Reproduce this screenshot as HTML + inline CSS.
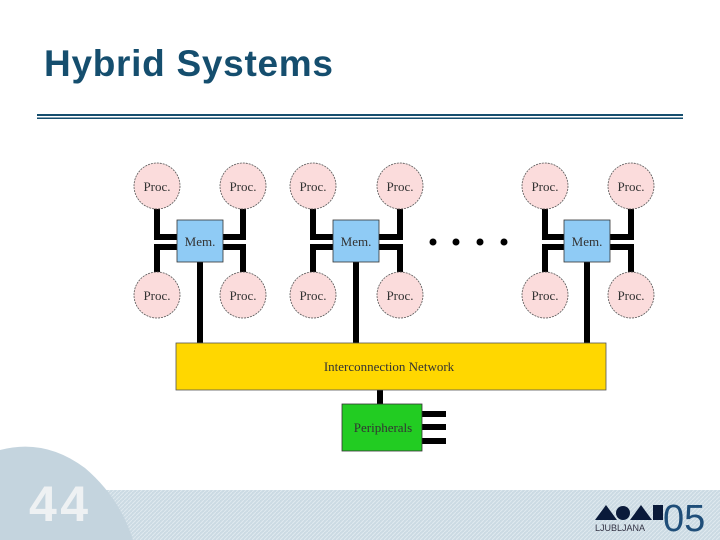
<!DOCTYPE html>
<html><head><meta charset="utf-8"><style>
html,body{margin:0;padding:0;background:#fff;}
svg{display:block;}
</style></head><body>
<svg width="720" height="540" viewBox="0 0 720 540" xmlns="http://www.w3.org/2000/svg">
<defs>
<pattern id="h" width="4" height="4" patternUnits="userSpaceOnUse">
<rect width="4" height="4" fill="#cbdae3"/>
<path d="M0,4 L4,0" stroke="#e0e9ef" stroke-width="1"/>
</pattern>
</defs>
<rect x="100" y="490" width="620" height="50" fill="url(#h)"/>
<path d="M0,450 Q45,438 85,468 Q120,498 133,540 L0,540 Z" fill="#c4d4de"/>
<text x="29" y="521" font-family="Liberation Sans, sans-serif" font-weight="bold" font-size="50" textLength="59" fill="#eef1f3">44</text>
<!-- logo -->
<g fill="#0a1a3a">
<polygon points="595,520 606,505 617,520"/>
<circle cx="623" cy="513" r="7"/>
<polygon points="630,520 641,505 652,520"/>
<rect x="653" y="505" width="10" height="15"/>
</g>
<text x="595" y="531" font-family="Liberation Sans, sans-serif" font-size="9" fill="#334">LJUBLJANA</text>
<text x="663" y="531" font-family="Liberation Sans, sans-serif" font-size="38" fill="#1f4e79">05</text>
<!-- title -->
<text x="44" y="76" font-family="Liberation Sans, sans-serif" font-weight="bold" font-size="37" textLength="289" fill="#154e6e">Hybrid Systems</text>
<rect x="37" y="114" width="646" height="2" fill="#154e6e"/>
<rect x="37" y="117.5" width="646" height="1.5" fill="#154e6e"/>
<!-- connectors -->
<g stroke="#000" stroke-width="6" fill="none">
<path d="M157,208 V237 H178 M157,272 V247 H178 M243,208 V237 H222 M243,272 V247 H222 M200,262 V344"/>
<path d="M313,208 V237 H334 M313,272 V247 H334 M400,208 V237 H378 M400,272 V247 H378 M356,262 V344"/>
<path d="M545,208 V237 H566 M545,272 V247 H566 M631,208 V237 H610 M631,272 V247 H610 M587,262 V344"/>
<path d="M380,389 V405 M422,414 H446 M422,427 H446 M422,441 H446"/>
</g>
<g fill="#000"><circle cx="433" cy="242" r="3.5"/><circle cx="456" cy="242" r="3.5"/><circle cx="480" cy="242" r="3.5"/><circle cx="504" cy="242" r="3.5"/></g>
<g fill="#fbdcdc" stroke="#555" stroke-width="0.8" stroke-dasharray="2,1">
<circle cx="157" cy="186" r="23"/><circle cx="243" cy="186" r="23"/><circle cx="157" cy="295" r="23"/><circle cx="243" cy="295" r="23"/>
<circle cx="313" cy="186" r="23"/><circle cx="400" cy="186" r="23"/><circle cx="313" cy="295" r="23"/><circle cx="400" cy="295" r="23"/>
<circle cx="545" cy="186" r="23"/><circle cx="631" cy="186" r="23"/><circle cx="545" cy="295" r="23"/><circle cx="631" cy="295" r="23"/>
</g>
<g font-family="Liberation Serif, serif" font-size="13" fill="#333" text-anchor="middle">
<text x="157" y="191">Proc.</text><text x="243" y="191">Proc.</text><text x="157" y="300">Proc.</text><text x="243" y="300">Proc.</text>
<text x="313" y="191">Proc.</text><text x="400" y="191">Proc.</text><text x="313" y="300">Proc.</text><text x="400" y="300">Proc.</text>
<text x="545" y="191">Proc.</text><text x="631" y="191">Proc.</text><text x="545" y="300">Proc.</text><text x="631" y="300">Proc.</text>
</g>
<g fill="#8fcbf5" stroke="#333" stroke-width="0.8">
<rect x="177" y="220" width="46" height="42"/><rect x="333" y="220" width="46" height="42"/><rect x="564" y="220" width="46" height="42"/>
</g>
<g font-family="Liberation Serif, serif" font-size="13" fill="#333" text-anchor="middle">
<text x="200" y="246">Mem.</text><text x="356" y="246">Mem.</text><text x="587" y="246">Mem.</text>
</g>
<rect x="176" y="343" width="430" height="47" fill="#ffd700" stroke="#555" stroke-width="0.8"/>
<text x="389" y="371" font-family="Liberation Serif, serif" font-size="13" fill="#333" text-anchor="middle">Interconnection Network</text>
<rect x="342" y="404" width="80" height="47" fill="#22cc22" stroke="#333" stroke-width="0.8"/>
<text x="383" y="432" font-family="Liberation Serif, serif" font-size="13" fill="#333" text-anchor="middle">Peripherals</text>
</svg>
</body></html>
